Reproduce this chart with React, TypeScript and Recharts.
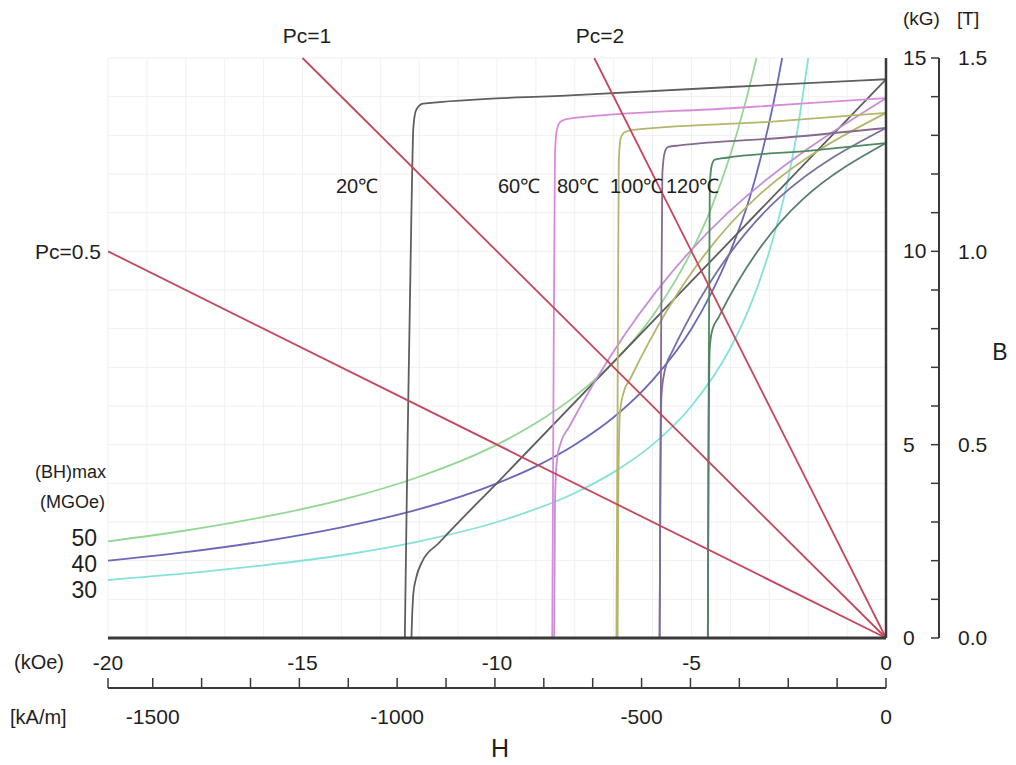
import React from "react";
import { LineChart, Line, XAxis, YAxis, CartesianGrid } from "recharts";

type Pt = [number, number];

// H in kOe, B in kG
const t20J: Pt[] = [[-12.37, 0], [-12.3, 5], [-12.2, 11], [-12.15, 13.2], [-12.08, 13.65], [-11.9, 13.82], [-8, 14.04], [-4, 14.25], [0, 14.45]];
const t20B: Pt[] = [[-12.2, 0], [-12.18, 0.6], [-12.15, 1.15], [-12.08, 1.55], [-11.92, 1.98], [-11.5, 2.45], [-9.97, 4.04], [0, 14.45]];
const t60J: Pt[] = [[-8.58, 0], [-8.55, 6], [-8.51, 12.5], [-8.46, 13.15], [-8.36, 13.36], [-8.15, 13.43], [-4, 13.7], [0, 13.96]];
const t60B: Pt[] = [[-8.53, 0], [-8.51, 3.5], [-8.46, 4.6], [-8.36, 5.05], [-8.15, 5.45], [0, 13.96]];
const t80J: Pt[] = [[-6.93, 0], [-6.9, 6], [-6.87, 12.3], [-6.82, 12.92], [-6.72, 13.08], [-6.5, 13.14], [-3, 13.35], [0, 13.58]];
const t80B: Pt[] = [[-6.9, 0], [-6.88, 4], [-6.84, 5.8], [-6.76, 6.3], [-6.55, 6.75], [0, 13.58]];
const t100J: Pt[] = [[-5.82, 0], [-5.79, 6], [-5.75, 12.0], [-5.69, 12.55], [-5.6, 12.7], [-5.3, 12.74], [-2.5, 12.95], [0, 13.19]];
const t100B: Pt[] = [[-5.82, 0], [-5.8, 4], [-5.77, 6.3], [-5.7, 6.85], [-5.5, 7.4], [0, 13.19]];
const t120J: Pt[] = [[-4.58, 0], [-4.56, 6], [-4.53, 11.7], [-4.48, 12.22], [-4.4, 12.37], [-4.1, 12.42], [-2, 12.6], [0, 12.8]];
const t120B: Pt[] = [[-4.58, 0], [-4.56, 5], [-4.53, 7.5], [-4.47, 7.95], [-4.3, 8.3], [0, 12.8]];

// (BH)max contours
const bh50: Pt[] = [[-20, 2.5], [-18, 2.78], [-16, 3.13], [-14, 3.57], [-12, 4.17], [-10, 5.0], [-9, 5.56], [-8, 6.25], [-7, 7.14], [-6, 8.33], [-5.5, 9.1], [-5, 10.0], [-4.5, 11.1], [-4, 12.5], [-3.6, 13.9], [-3.33, 15]];
const bh40: Pt[] = [[-20, 2.0], [-18, 2.22], [-16, 2.5], [-14, 2.86], [-12, 3.33], [-10, 4.0], [-9, 4.44], [-8, 5.0], [-7, 5.71], [-6, 6.67], [-5, 8.0], [-4.5, 8.9], [-4, 10.0], [-3.5, 11.4], [-3.2, 12.5], [-2.9, 13.8], [-2.67, 15]];
const bh30: Pt[] = [[-20, 1.5], [-18, 1.67], [-16, 1.88], [-14, 2.14], [-12, 2.5], [-10, 3.0], [-8, 3.75], [-7, 4.29], [-6, 5.0], [-5, 6.0], [-4, 7.5], [-3.5, 8.57], [-3, 10.0], [-2.6, 11.5], [-2.3, 13.0], [-2, 15]];

// permeance lines
const pcHalf: Pt[] = [[-20, 10], [0, 0]];
const pcOne: Pt[] = [[-15, 15], [0, 0]];
const pcTwo: Pt[] = [[-7.5, 15], [0, 0]];

const hGridTicks = [-20, -19, -18, -17, -16, -15, -14, -13, -12, -11, -10, -9, -8, -7, -6, -5, -4, -3, -2, -1, 0];
const bGridTicks = [0, 1, 2, 3, 4, 5, 6, 7, 8, 9, 10, 11, 12, 13, 14, 15];
const kaDomain = [-1591.5, 0];
const kaTicks = [-1591.5, -1500, -1400, -1300, -1200, -1100, -1000, -900, -800, -700, -600, -500, -400, -300, -200, -100, 0];
const teslaDomain = [0, 1.5];
const teslaTicks = [0, 0.5, 1.0, 1.5];
const tempLabels = ["20℃", "60℃", "80℃", "100℃", "120℃"];
const bhLabels = ["50", "40", "30"];

const toPts = (arr: Pt[]) => arr.map(([h, b]) => ({ h, b }));

const FONT = "'Liberation Sans', Arial, sans-serif";
const INK = "#1e1e1e";
const FRAME = "#3a3a3a";

const series = [
  { id: "bh50", pts: bh50, color: "#92d892" },
  { id: "bh40", pts: bh40, color: "#6a68b8" },
  { id: "bh30", pts: bh30, color: "#84e2da" },
  { id: "t20J", pts: t20J, color: "#5e5e5e" },
  { id: "t20B", pts: t20B, color: "#5e5e5e" },
  { id: "t60J", pts: t60J, color: "#d88bd8" },
  { id: "t60B", pts: t60B, color: "#c48ed8" },
  { id: "t80J", pts: t80J, color: "#b5b56c" },
  { id: "t80B", pts: t80B, color: "#b5b56c" },
  { id: "t100J", pts: t100J, color: "#86698f" },
  { id: "t100B", pts: t100B, color: "#7a6ea0" },
  { id: "t120J", pts: t120J, color: "#4f8a5f" },
  { id: "t120B", pts: t120B, color: "#55806a" },
  { id: "pc05", pts: pcHalf, color: "#c4485a" },
  { id: "pc1", pts: pcOne, color: "#c4485a" },
  { id: "pc2", pts: pcTwo, color: "#c4485a" },
];

const KaTick = (props: any) => {
  const { x, y, payload } = props;
  const v = payload.value;
  const major = v % 500 === 0;
  return (
    <g>
      <line x1={x} x2={x} y1={y} y2={y - 10} stroke={FRAME} strokeWidth={1.5} />
      {major && (
        <text x={x} y={y + 36} textAnchor="middle" fill={INK} fontSize={21} fontFamily={FONT}>
          {v}
        </text>
      )}
    </g>
  );
};

const KgTick = (props: any) => {
  const { x, y, payload } = props;
  const v = payload.value;
  return (
    <g>
      <line x1={x - 8} x2={x} y1={y} y2={y} stroke={FRAME} strokeWidth={1.5} />
      {v % 5 === 0 && (
        <text x={x - 36} y={y + 7} fill={INK} fontSize={21} fontFamily={FONT}>
          {v}
        </text>
      )}
    </g>
  );
};

const NoTick = () => <g />;

export default function App() {
  const txt = { fill: INK, fontFamily: FONT } as const;
  const hidden = { dot: false, activeDot: false, isAnimationActive: false, stroke: "none", legendType: "none" as const };
  return (
    <div style={{ position: "absolute", left: 0, top: 0, width: 1016, height: 765, background: "#fff" }}>
      <LineChart width={1016} height={765} margin={{ top: 58, right: 0, bottom: 0, left: 108 }}>
        <CartesianGrid xAxisId="x1" yAxisId="y1" stroke="#f0f0f0"
          horizontalValues={bGridTicks} verticalValues={hGridTicks} />
        <XAxis xAxisId="x0" orientation="top" type="number" dataKey="h" domain={[-20, 0]} height={0}
          tick={NoTick} tickLine={false} axisLine={{ stroke: FRAME, strokeWidth: 2.5 }} />
        <XAxis xAxisId="x1" type="number" dataKey="h" domain={[-20, 0]} ticks={hGridTicks} interval={0}
          height={50} tickLine={false} tickSize={0} tickMargin={17}
          tickFormatter={(v: number) => (v % 5 === 0 ? String(v) : "")}
          tick={{ fill: INK, fontSize: 21, fontFamily: FONT }}
          axisLine={{ stroke: FRAME, strokeWidth: 3 }} />
        <XAxis xAxisId="x2" type="number" dataKey="h" domain={kaDomain} ticks={kaTicks} interval={0}
          height={77} tickLine={false} tickSize={0} tickMargin={0} tick={<KaTick />}
          axisLine={{ stroke: FRAME, strokeWidth: 2 }} />
        <YAxis yAxisId="y0" orientation="left" type="number" domain={[0, 15]} width={0} tick={NoTick} tickLine={false}
          axisLine={{ stroke: FRAME, strokeWidth: 2.5 }} />
        <YAxis yAxisId="y1" orientation="right" type="number" domain={[0, 15]} ticks={bGridTicks} width={53}
          interval={0} tick={NoTick} tickLine={false} axisLine={{ stroke: FRAME, strokeWidth: 2.5 }} />
        <YAxis yAxisId="y2" orientation="right" type="number" domain={[0, 15]} ticks={bGridTicks} width={19}
          interval={0} tickLine={false} tickSize={0} tickMargin={0} tick={<KgTick />}
          axisLine={{ stroke: FRAME, strokeWidth: 2 }} />
        <YAxis yAxisId="y3" orientation="right" type="number" domain={teslaDomain} ticks={teslaTicks} width={58}
          interval={0} axisLine={false} tickLine={false} tickSize={0} tickMargin={0}
          tickFormatter={(v: number) => v.toFixed(1)}
          tick={{ fill: INK, fontSize: 21, fontFamily: FONT, textAnchor: "start" }} />
        {/* invisible anchors so the secondary axes get their domains */}
        <Line xAxisId="x0" yAxisId="y0" data={[{ h: -20, b: 0 }, { h: 0, b: 15 }]} dataKey="b" {...hidden} />
        <Line xAxisId="x2" yAxisId="y1" data={kaDomain.map((h) => ({ h, b: 0 }))} dataKey="b" {...hidden} />
        <Line xAxisId="x1" yAxisId="y2" data={[{ h: -20, b: 0 }, { h: 0, b: 15 }]} dataKey="b" {...hidden} />
        <Line xAxisId="x1" yAxisId="y3" data={teslaDomain.map((b, i) => ({ h: i ? 0 : -20, b }))} dataKey="b" {...hidden} />
        {series.map((s) => (
          <Line key={s.id} xAxisId="x1" yAxisId="y1" data={toPts(s.pts)} dataKey="b" type="monotone"
            stroke={s.color} strokeWidth={1.8} dot={false} activeDot={false} isAnimationActive={false} />
        ))}
      </LineChart>
      <svg width={1016} height={765} style={{ position: "absolute", left: 0, top: 0, pointerEvents: "none" }}>
        <text x={307} y={43} textAnchor="middle" fontSize={21} {...txt}>Pc=1</text>
        <text x={600} y={43} textAnchor="middle" fontSize={21} {...txt}>Pc=2</text>
        <text x={101} y={259} textAnchor="end" fontSize={21} {...txt}>Pc=0.5</text>
        <text x={903} y={25} fontSize={19} {...txt}>(kG)</text>
        <text x={957} y={25} fontSize={19} {...txt}>[T]</text>
        <text x={1000} y={360} textAnchor="middle" fontSize={23} {...txt}>B</text>
        <text x={500} y={757} textAnchor="middle" fontSize={25} {...txt}>H</text>
        <text x={14} y={669} fontSize={20} {...txt}>(kOe)</text>
        <text x={10} y={724} fontSize={20} {...txt}>[kA/m]</text>
        <text x={106} y={478} textAnchor="end" fontSize={18} {...txt}>(BH)max</text>
        <text x={105} y={508} textAnchor="end" fontSize={18} {...txt}>(MGOe)</text>
        {bhLabels.map((l, i) => (
          <text key={l} x={97} y={546 + i * 26} textAnchor="end" fontSize={23} {...txt}>{l}</text>
        ))}
        {tempLabels.map((l, i) => (
          <text key={l} x={[336, 498, 557, 610, 666][i]} y={193} fontSize={20} {...txt}>{l}</text>
        ))}
      </svg>
    </div>
  );
}
